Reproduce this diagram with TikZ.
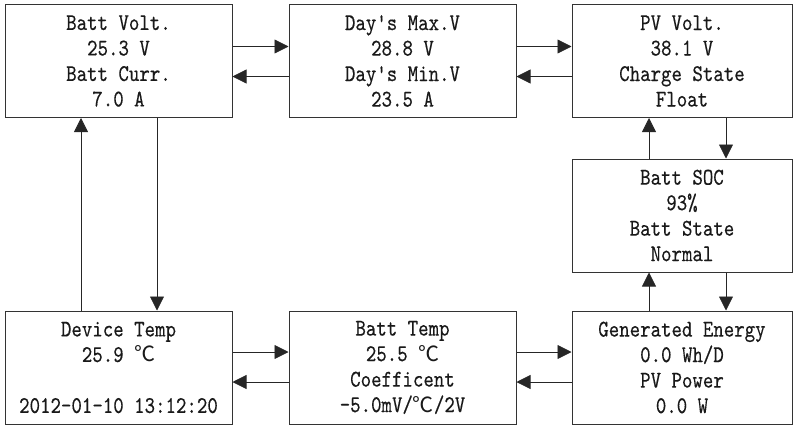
\documentclass[tikz,border=0pt]{standalone}
\usepackage{fontspec}
\usetikzlibrary{arrows.meta}
\newfontfamily\boxfont{lmmono10-regular.otf}[FakeStretch=0.83,FakeBold=0.3]
\newfontfamily\cjkfont{Noto Sans CJK SC}
\newcommand\degC{{\cjkfont\fontsize{21}{25}\selectfont ℃}}
\tikzset{
  panel/.style={draw=black!80, line width=1pt, minimum height=113pt, inner sep=0pt,
    align=center, font=\boxfont\fontsize{24}{25.5}\selectfont, text=black!90},
  wide/.style={panel, minimum width=227pt},
  narrow/.style={panel, minimum width=220pt},
  arr/.style={draw=black!85, line width=0.8pt, -{Triangle[length=14pt,width=14pt]}}
}
\begin{document}
\begin{tikzpicture}[x=1pt,y=-1pt]
\useasboundingbox (0,0) rectangle (793,426);
\node[wide] (bv) at (118.5,61) {Batt Volt.\\25.3 V\\Batt Curr.\\7.0 A};
\node[wide] (dm) at (402.5,61) {Day's Max.V\\28.8 V\\Day's Min.V\\23.5 A};
\node[narrow] (pv) at (682,61) {PV Volt.\\38.1 V\\Charge State\\Float};
\node[narrow] (soc) at (682,215.5) {Batt SOC\\93\%\\Batt State\\Normal};
\node[wide] (dt) at (118.5,367.5) {Device Temp\\25.9 \degC\\\strut\\2012-01-10 13:12:20};
\node[wide] (bt) at (402.5,367.5) {Batt Temp\\25.5 \degC\\Coefficent\\-5.0mV/\degC/2V};
\node[narrow] (ge) at (682,367.5) {Generated Energy\\0.0 Wh/D\\PV Power\\0.0 W};
% top row
\draw[arr] ([yshift=14.5pt]bv.east) -- ([yshift=14.5pt]dm.west);
\draw[arr] ([yshift=-15.5pt]dm.west) -- ([yshift=-15.5pt]bv.east);
\draw[arr] ([yshift=14.5pt]dm.east) -- ([yshift=14.5pt]pv.west);
\draw[arr] ([yshift=-15.5pt]pv.west) -- ([yshift=-15.5pt]dm.east);
% bottom row
\draw[arr] ([yshift=15.5pt]dt.east) -- ([yshift=15.5pt]bt.west);
\draw[arr] ([yshift=-14.5pt]bt.west) -- ([yshift=-14.5pt]dt.east);
\draw[arr] ([yshift=15.5pt]bt.east) -- ([yshift=15.5pt]ge.west);
\draw[arr] ([yshift=-14.5pt]ge.west) -- ([yshift=-14.5pt]bt.east);
% left column
\draw[arr] (dt.north -| 81,0) -- (bv.south -| 81,0);
\draw[arr] (bv.south -| 157,0) -- (dt.north -| 157,0);
% right column
\draw[arr] (soc.north -| 649,0) -- (pv.south -| 649,0);
\draw[arr] (pv.south -| 726,0) -- (soc.north -| 726,0);
\draw[arr] (ge.north -| 649,0) -- (soc.south -| 649,0);
\draw[arr] (soc.south -| 726,0) -- (ge.north -| 726,0);
\end{tikzpicture}
\end{document}
